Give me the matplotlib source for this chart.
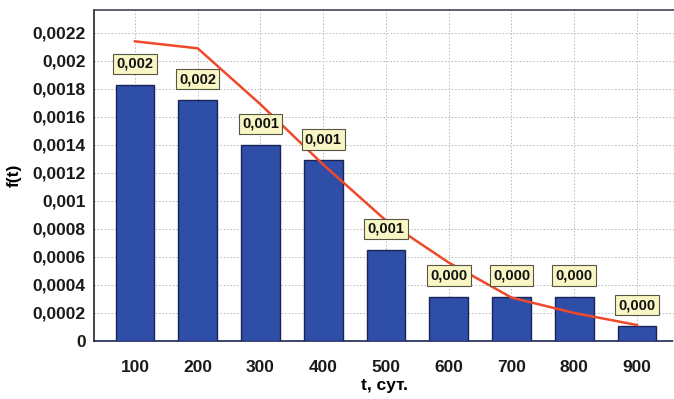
import matplotlib
matplotlib.use("Agg")
import matplotlib.pyplot as plt
from matplotlib import font_manager
import numpy as np

# Data
days = [100, 200, 300, 400, 500, 600, 700, 800, 900]
freq = [0.00183, 0.00172, 0.00140, 0.00129, 0.00065, 0.000317, 0.000317, 0.000317, 0.000107]
density = [0.00214, 0.00209, 0.00169, 0.00126, 0.00086, 0.00056, 0.00031, 0.00020, 0.000114]
y_ticks = [0, 0.0002, 0.0004, 0.0006, 0.0008, 0.001, 0.0012, 0.0014, 0.0016, 0.0018, 0.002, 0.0022]

names = {f.name for f in font_manager.fontManager.ttflist}
family = "Liberation Sans Narrow" if "Liberation Sans Narrow" in names else "Liberation Sans"
plt.rcParams["font.family"] = [family, "DejaVu Sans"]
plt.rcParams["font.weight"] = "bold"

fig = plt.figure(figsize=(6.74, 3.99), dpi=100)
ax = fig.add_axes([0.1395, 0.1454, 0.8605, 0.8296])

x = np.arange(len(days))
ax.bar(x, freq, width=0.62, color="#2f4ea8", edgecolor="#1a2456", linewidth=1.0, zorder=3)
ax.plot(x, density, color="#f0482a", linewidth=1.8, zorder=4)

for xi, v in zip(x, freq):
    ax.annotate(f"{v:.3f}".replace(".", ","), (xi, v), xytext=(0, 21),
                textcoords="offset pixels",
                ha="center", va="center", fontsize=10.5, fontweight="bold", color="#111111",
                bbox=dict(boxstyle="square,pad=0.22", facecolor="#f8f6c4",
                          edgecolor="#555544", linewidth=0.8), zorder=5)

ax.set_xlim(-0.653, 8.59)
ax.set_ylim(0, 0.002364)
ax.set_xticks(x)
ax.set_xticklabels([str(d) for d in days])
ax.set_yticks(y_ticks)
ax.set_yticklabels(["0" if t == 0 else f"{t:g}".replace(".", ",") for t in y_ticks])
ax.tick_params(axis="both", length=0, labelsize=12.5, colors="#1a1a1a")
ax.tick_params(axis="x", pad=14)
ax.tick_params(axis="y", pad=6)

ax.grid(True, color="#b8b8b8", linestyle=(0, (1.5, 2)), linewidth=0.7, zorder=0)

ax.spines["right"].set_visible(False)
ax.spines["left"].set_color("#222222")
ax.spines["left"].set_linewidth(1.2)
ax.spines["top"].set_color("#444455")
ax.spines["top"].set_linewidth(1.2)
ax.spines["bottom"].set_color("#1a2456")
ax.spines["bottom"].set_linestyle((0, (2, 1)))
ax.spines["bottom"].set_linewidth(1.2)

ax.set_xlabel("t, сут.", fontsize=12.5, fontweight="bold", labelpad=2)
ax.set_ylabel("f(t)", fontsize=12.5, fontweight="bold", labelpad=8)

fig.savefig("out.png", dpi=100)
